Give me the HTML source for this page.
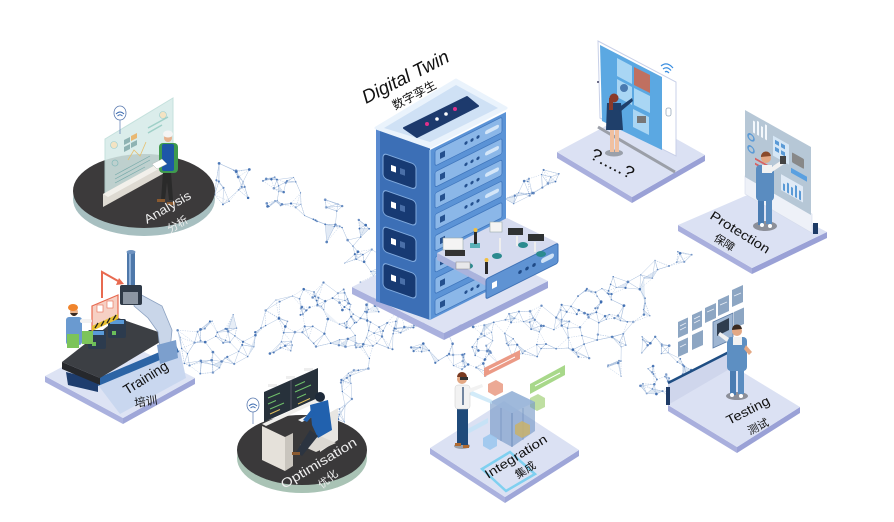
<!DOCTYPE html>
<html><head><meta charset="utf-8">
<style>
html,body{margin:0;padding:0;background:#fff}
body{width:894px;height:522px;overflow:hidden}
svg{display:block}
text{font-family:"Liberation Sans","Noto Sans CJK SC",sans-serif}
</style></head><body>
<svg width="894" height="522" viewBox="0 0 894 522" xmlns="http://www.w3.org/2000/svg">
<g id="mesh"></g>

<!-- ================= ANALYSIS ================= -->
<g>
<ellipse cx="144" cy="199" rx="71" ry="37" fill="#a7bfc0"/>
<ellipse cx="144" cy="191" rx="71" ry="37" fill="#3c3a3b"/>
<polygon points="105,139 173,98 173,168 105,200" fill="#d5ebe8" opacity="0.85" stroke="#bcdcd8" stroke-width="1"/>
<circle cx="114" cy="145" r="3.5" fill="#f3e3c3" stroke="#9cc" stroke-width="0.6"/>
<polygon points="124,140 130,137 130,142 124,145" fill="#8fb3b3"/>
<polygon points="131,136 137,133 137,138 131,141" fill="#e8b872"/>
<polygon points="124,147 130,144 130,149 124,152" fill="#8fb3b3"/>
<polygon points="131,143 137,140 137,145 131,148" fill="#8fb3b3"/>
<circle cx="163" cy="115" r="3.5" fill="#f3e3c3" stroke="#9cc" stroke-width="0.6"/>
<line x1="148" y1="128" x2="168" y2="117" stroke="#9fd0c8" stroke-width="1.5"/>
<line x1="148" y1="133" x2="162" y2="125" stroke="#9fd0c8" stroke-width="1.5"/>
<polyline points="128,160 134,150 140,156 146,142" fill="none" stroke="#e6c070" stroke-width="0.8"/>
<line x1="115" y1="175" x2="150" y2="156" stroke="#7aa" stroke-width="0.7"/>
<line x1="115" y1="179" x2="150" y2="160" stroke="#7aa" stroke-width="0.7"/>
<line x1="115" y1="183" x2="145" y2="167" stroke="#7aa" stroke-width="0.7"/>
<circle cx="115" cy="163" r="3" fill="none" stroke="#8bb" stroke-width="0.8"/>
<polygon points="103,194 168,158 168,171 103,207" fill="#dedad2"/>
<polygon points="103,194 168,158 173,161 108,197" fill="#f2f0eb"/>
<ellipse cx="120" cy="113" rx="6" ry="7" fill="#fff" stroke="#5a7ab0" stroke-width="0.8"/>
<path d="M116,114 q4,-4 8,0 M117.5,116 q2.5,-2.5 5,0" fill="none" stroke="#3a6ab0" stroke-width="0.9"/>
<line x1="120" y1="120" x2="120" y2="134" stroke="#5a7ab0" stroke-width="0.7"/>
<polygon points="163,172 171,172 173,200 169,200 167,182 165,200 161,200" fill="#2a2a2a"/>
<rect x="157" y="199" width="8" height="3" fill="#8a5a30"/>
<rect x="167" y="202" width="8" height="3" fill="#8a5a30"/>
<rect x="159" y="143" width="19" height="30" rx="4" fill="#3f9a4e"/>
<rect x="162" y="144" width="12" height="27" rx="2" fill="#1e56a8"/>
<circle cx="168" cy="138" r="4" fill="#e6b08c"/>
<ellipse cx="168" cy="134" rx="5" ry="3.5" fill="#f4f4f4"/>
<polygon points="152,164 162,159 167,164 157,169" fill="#fff" stroke="#aaa" stroke-width="0.4"/>
<text transform="translate(147,224) rotate(-30)" fill="#eeeeee" font-size="12.5" textLength="52" lengthAdjust="spacingAndGlyphs">Analysis</text>
<text transform="translate(170,233) rotate(-30)" fill="#eeeeee" font-size="11" font-family="'Noto Sans CJK SC',sans-serif">分析</text>
</g>

<!-- ================= TRAINING ================= -->
<g>
<polygon points="45,376 123,418 123,424 45,382" fill="#aab1de"/>
<polygon points="123,418 195,378 195,384 123,424" fill="#9ea6d8"/>
<polygon points="45,376 117,338 195,378 123,418" fill="#dde3f4"/>
<polygon points="98,385 180,350 186,378 120,414" fill="#c9d7ef"/>
<polygon points="98,378 176,345 179,352 98,386" fill="#2c64a5"/>
<polygon points="66,372 98,380 98,392 68,385" fill="#1e3d6e"/>
<polygon points="62,362 118,318 170,336 100,378" fill="#3c3f44"/>
<polygon points="62,362 100,378 100,385 62,369" fill="#26282c"/>
<rect x="88" y="330" width="18" height="19" rx="2" fill="#2c3b4e"/>
<rect x="90" y="331" width="14" height="4" fill="#5a9ad8"/>
<rect x="108" y="319" width="18" height="19" rx="2" fill="#2c3b4e"/>
<rect x="110" y="320" width="14" height="4" fill="#5a9ad8"/>
<rect x="92" y="342" width="4" height="4" fill="#6bbf5a"/>
<rect x="112" y="331" width="4" height="4" fill="#6bbf5a"/>
<rect x="127" y="252" width="8" height="40" fill="#4e78aa"/>
<rect x="129" y="252" width="2" height="40" fill="#8fb0d8"/>
<ellipse cx="131" cy="252" rx="4.5" ry="2" fill="#6d92c0"/>
<polygon points="136,292 162,306 172,330 170,350 160,350 158,332 148,318 134,306" fill="#c9d6e9" stroke="#8aa0c0" stroke-width="0.8"/>
<polygon points="157,345 176,340 178,358 160,364" fill="#7c9fcd"/>
<rect x="120" y="285" width="22" height="20" rx="2" fill="#2f3a48"/>
<rect x="123" y="292" width="15" height="12" fill="#8c96a3"/>
<path d="M102,298 L102,272 L118,281" fill="none" stroke="#e86a50" stroke-width="2"/>
<polygon points="116,285 124,284 119,278" fill="#e86a50"/>
<polygon points="92,306 118,295 118,318 92,330" fill="#f6d0c4" stroke="#e86a50" stroke-width="1.2"/>
<rect x="97" y="305" width="6" height="7" fill="#fff" stroke="#e86a50" stroke-width="0.6"/>
<rect x="107" y="301" width="6" height="7" fill="#fff" stroke="#e86a50" stroke-width="0.6"/>
<polygon points="92,326 118,314 118,319 92,331" fill="#e8c030"/>
<path d="M95,328 l3,-5 M101,326 l3,-5 M107,323 l3,-5 M113,320 l3,-5" stroke="#222" stroke-width="1.3"/>
<rect x="66" y="317" width="16" height="28" rx="3" fill="#6a9ad0"/>
<rect x="80" y="319" width="12" height="4" rx="2" fill="#f2f2f2"/>
<circle cx="74" cy="312" r="4" fill="#e9b48e"/>
<path d="M70,313 q4,6 8,0" fill="#3a2a20"/>
<ellipse cx="73" cy="307.5" rx="5" ry="3.5" fill="#f0842c"/>
<rect x="67" y="334" width="12" height="14" fill="#7cc45a"/>
<rect x="82" y="331" width="11" height="13" fill="#7cc45a"/>
<text transform="translate(127,395) rotate(-32)" fill="#111" font-size="14" textLength="50" lengthAdjust="spacingAndGlyphs">Training</text>
<text transform="translate(135,407) rotate(-8)" fill="#111" font-size="11.5" font-family="'Noto Sans CJK SC',sans-serif">培训</text>
</g>

<!-- ================= OPTIMISATION ================= -->
<g>
<ellipse cx="302" cy="458" rx="65" ry="35" fill="#a9c3b5"/>
<ellipse cx="302" cy="450" rx="65" ry="35" fill="#3a393a"/>
<rect x="268" y="384" width="9" height="3" fill="#eee"/>
<rect x="286" y="376" width="9" height="3" fill="#eee"/>
<rect x="304" y="368" width="9" height="3" fill="#eee"/>
<polygon points="264,392 318,368 318,398 264,422" fill="#27313b"/>
<line x1="291" y1="380" x2="291" y2="410" stroke="#556" stroke-width="1"/>
<path d="M268,398 l12,-5 M268,404 l8,-3.5 M270,409 l14,-6 M295,386 l10,-4.5 M295,392 l16,-7 M297,398 l9,-4" stroke="#6fbf6a" stroke-width="1"/>
<path d="M270,414 l10,-4.5 M298,404 l12,-5.5" stroke="#e0c060" stroke-width="1"/>
<polygon points="262,424 318,398 322,400 266,426" fill="#f0efec"/>
<polygon points="262,426 285,437 285,471 262,460" fill="#e5e1da"/>
<polygon points="285,437 293,433 293,466 285,471" fill="#c9c5be"/>
<polygon points="298,420 312,413 316,415 302,422" fill="#f4f4f4"/>
<polygon points="320,418 338,408 338,440 320,452" fill="#e8e6e2"/>
<polygon points="300,445 320,436 336,443 316,452" fill="#dcd9d3"/>
<polygon points="310,405 328,400 332,430 318,438 312,425" fill="#2161ae"/>
<circle cx="320" cy="397" r="5" fill="#1e2a3a"/>
<polygon points="311,410 303,420 307,422 315,413" fill="#2161ae"/>
<polygon points="310,430 318,436 302,456 296,452" fill="#2c3440"/>
<rect x="292" y="452" width="8" height="3" fill="#8a5a30"/>
<ellipse cx="253" cy="405" rx="6" ry="7" fill="#fff" stroke="#5a7ab0" stroke-width="0.8"/>
<path d="M249,406 q4,-4 8,0 M250.5,408 q2.5,-2.5 5,0" fill="none" stroke="#3a6ab0" stroke-width="0.9"/>
<line x1="253" y1="412" x2="253" y2="424" stroke="#5a7ab0" stroke-width="0.7"/>
<text transform="translate(284,489) rotate(-31)" fill="#eeeeee" font-size="13" textLength="86" lengthAdjust="spacingAndGlyphs">Optimisation</text>
<text transform="translate(322,489) rotate(-40)" fill="#eeeeee" font-size="11" font-family="'Noto Sans CJK SC',sans-serif">优化</text>
</g>

<!-- ================= DIGITAL TWIN TOWER ================= -->
<g>
<polygon points="352,287 444,333 444,340 352,294" fill="#aab1de"/>
<polygon points="444,333 548,281 548,288 444,340" fill="#9ea6d8"/>
<polygon points="352,287 455,235 548,281 444,333" fill="#dde2f3"/>
<g transform="matrix(1,0.35,0,1,0,0)">
  <rect x="376" y="-3.5" width="54" height="173" fill="#3c6fb6"/>
  <rect x="376" y="-3.5" width="4" height="173" fill="#5a8ad0"/>
  <g stroke="#80aade" stroke-width="1">
  <rect x="383" y="19" width="33" height="25" rx="4" fill="#173a73"/>
  <rect x="383" y="55.5" width="33" height="25" rx="4" fill="#173a73"/>
  <rect x="383" y="92" width="33" height="25" rx="4" fill="#173a73"/>
  <rect x="383" y="128.5" width="33" height="25" rx="4" fill="#173a73"/>
  </g>
  <rect x="391" y="28" width="5" height="6" fill="#fff"/><rect x="400" y="28" width="5" height="6" fill="#4a6fa8"/>
  <rect x="391" y="64.5" width="5" height="6" fill="#fff"/><rect x="400" y="64.5" width="5" height="6" fill="#4a6fa8"/>
  <rect x="391" y="101" width="5" height="6" fill="#fff"/><rect x="400" y="101" width="5" height="6" fill="#4a6fa8"/>
  <rect x="391" y="137.5" width="5" height="6" fill="#fff"/><rect x="400" y="137.5" width="5" height="6" fill="#4a6fa8"/>
</g>
<g transform="matrix(1,-0.5,0,1,0,0)">
  <rect x="430" y="365" width="76" height="170" fill="#5b93d6"/>
  <g fill="#8bb7e8" stroke="#3f76bd" stroke-width="0.8">
  <rect x="435" y="368" width="67" height="15.5" rx="2"/>
  <rect x="435" y="389.3" width="67" height="15.5" rx="2"/>
  <rect x="435" y="410.6" width="67" height="15.5" rx="2"/>
  <rect x="435" y="431.9" width="67" height="15.5" rx="2"/>
  <rect x="435" y="453.2" width="67" height="15.5" rx="2"/>
  <rect x="435" y="474.5" width="67" height="15.5" rx="2"/>
  <rect x="435" y="495.8" width="67" height="15.5" rx="2"/>
  <rect x="435" y="517.1" width="67" height="15.5" rx="2"/>
  </g>
  <g fill="#24508e">
  <rect x="440" y="373" width="5" height="6"/><rect x="440" y="394.3" width="5" height="6"/><rect x="440" y="415.6" width="5" height="6"/><rect x="440" y="436.9" width="5" height="6"/><rect x="440" y="458.2" width="5" height="6"/><rect x="440" y="479.5" width="5" height="6"/><rect x="440" y="500.8" width="5" height="6"/><rect x="440" y="522.1" width="5" height="6"/>
  <circle cx="466" cy="376" r="1.6"/><circle cx="472" cy="376" r="1.6"/><circle cx="478" cy="376" r="1.6"/>
  <circle cx="466" cy="397.3" r="1.6"/><circle cx="472" cy="397.3" r="1.6"/><circle cx="478" cy="397.3" r="1.6"/>
  <circle cx="466" cy="418.6" r="1.6"/><circle cx="472" cy="418.6" r="1.6"/><circle cx="478" cy="418.6" r="1.6"/>
  <circle cx="466" cy="439.9" r="1.6"/><circle cx="472" cy="439.9" r="1.6"/><circle cx="478" cy="439.9" r="1.6"/>
  <circle cx="466" cy="525.1" r="1.6"/><circle cx="472" cy="525.1" r="1.6"/><circle cx="478" cy="525.1" r="1.6"/>
  </g>
  <g fill="#d4e6f8">
  <rect x="485" y="373.5" width="14" height="4" rx="2"/><rect x="485" y="394.8" width="14" height="4" rx="2"/><rect x="485" y="416.1" width="14" height="4" rx="2"/><rect x="485" y="437.4" width="14" height="4" rx="2"/><rect x="485" y="522.6" width="14" height="4" rx="2"/>
  </g>
</g>
<line x1="430" y1="150" x2="430" y2="320" stroke="#8fbbe9" stroke-width="1.5"/>
<polygon points="376,128 456,80 506,108 430,147" fill="#eaf3fc" stroke="#eaf3fc" stroke-width="3" stroke-linejoin="round"/>
<polygon points="384,128 456,85 498,108 430,142" fill="#cfe1f5"/>
<polygon points="404,128 467,97 478,106 417,137" fill="#1d3a6d" stroke="#1d3a6d" stroke-width="2" stroke-linejoin="round"/>
<circle cx="427" cy="124" r="2" fill="#e0308a"/>
<circle cx="437" cy="119" r="1.8" fill="#fff"/>
<circle cx="446" cy="114" r="1.8" fill="#fff"/>
<circle cx="455" cy="109" r="2" fill="#e0308a"/>
<!-- drawer -->
<polygon points="437,253 486,279 486,286 437,260" fill="#aab3dc"/>
<polygon points="437,253 507,218 558,243 486,279" fill="#d5dbef"/>
<g transform="matrix(1,-0.5,0,1,0,0)">
  <rect x="486" y="522" width="72" height="20" rx="2" fill="#5f93d3" stroke="#3d70b5" stroke-width="1"/>
  <rect x="492" y="529" width="5" height="6" fill="#fff"/>
  <circle cx="520" cy="532" r="1.8" fill="#1f4a86"/><circle cx="527" cy="532" r="1.8" fill="#1f4a86"/><circle cx="534" cy="532" r="1.8" fill="#1f4a86"/>
  <rect x="541" y="529.5" width="13" height="5" rx="2.5" fill="#cfe2f6"/>
</g>
<rect x="443" y="238" width="20" height="12" fill="#f4f4f4" stroke="#9aa" stroke-width="0.6"/>
<rect x="445" y="250" width="20" height="6" fill="#333"/>
<rect x="470" y="243" width="10" height="5" fill="#5ab0b8"/>
<ellipse cx="468" cy="266" rx="5" ry="3" fill="#2b8a8e"/>
<ellipse cx="497" cy="256" rx="5" ry="3" fill="#2b8a8e"/>
<ellipse cx="523" cy="245" rx="5" ry="3" fill="#2b8a8e"/>
<ellipse cx="541" cy="254" rx="5" ry="3" fill="#2b8a8e"/>
<rect x="474" y="232" width="3" height="12" fill="#2a2a2a"/><circle cx="475.5" cy="230" r="2" fill="#f2c040"/>
<rect x="485" y="262" width="3" height="12" fill="#2a2a2a"/><circle cx="486.5" cy="260" r="2" fill="#f2c040"/>
<rect x="490" y="222" width="12" height="10" fill="#f4f4f4" stroke="#9aa" stroke-width="0.6"/>
<rect x="508" y="228" width="15" height="7" fill="#2f3233"/>
<rect x="528" y="234" width="16" height="7" fill="#2f3233"/>
<line x1="500" y1="238" x2="500" y2="252" stroke="#eee" stroke-width="2"/>
<line x1="517" y1="236" x2="517" y2="246" stroke="#eee" stroke-width="2"/>
<line x1="535" y1="242" x2="535" y2="252" stroke="#eee" stroke-width="2"/>
<rect x="456" y="262" width="14" height="7" fill="#e8e8ea" stroke="#888" stroke-width="0.5"/>
<text transform="translate(366,104) rotate(-27)" fill="#111" font-size="19" font-style="italic" textLength="95" lengthAdjust="spacingAndGlyphs">Digital Twin</text>
<text transform="translate(395,110) rotate(-28)" fill="#111" font-size="12" font-family="'Noto Sans CJK SC',sans-serif">数字孪生</text>
</g>

<!-- ================= INTEGRATION ================= -->
<g>
<polygon points="430,448 505,497 505,503 430,454" fill="#aab1de"/>
<polygon points="505,497 579,450 579,456 505,503" fill="#9ea6d8"/>
<polygon points="504,401 579,450 505,497 430,448" fill="#dbe1f3"/>
<polygon points="482,469 510,452 535,474 506,491" fill="none" stroke="#7fd0f0" stroke-width="2.5"/>
<polygon points="484,368 520,350 520,359 484,377" fill="#eb9a86"/>
<line x1="489" y1="370" x2="515" y2="357" stroke="#fff" stroke-width="1"/>
<polygon points="530,384 565,365 565,375 530,394" fill="#a8d88a"/>
<line x1="535" y1="386" x2="560" y2="373" stroke="#fff" stroke-width="1"/>
<polygon points="488,384 496,380 503,384 503,392 495,396 488,392" fill="#eaa08a" opacity="0.9"/>
<polygon points="530,398 538,394 545,398 545,407 537,411 530,407" fill="#b8dc98" opacity="0.9"/>
<polygon points="490,402 512,391 535,402 535,431 512,447 490,435" fill="#6f95c4" opacity="0.6"/>
<polygon points="490,402 512,391 535,402 512,413" fill="#9ab6da" opacity="0.6"/>
<line x1="512" y1="413" x2="512" y2="447" stroke="#4f75a8" stroke-width="0.6"/>
<line x1="501" y1="408" x2="501" y2="441" stroke="#4f75a8" stroke-width="0.4"/>
<line x1="523" y1="408" x2="523" y2="440" stroke="#4f75a8" stroke-width="0.4"/>
<polygon points="515,425 522,421 530,425 530,434 522,438 515,434" fill="#c9b26a" opacity="0.85"/>
<polygon points="483,438 490,434 497,438 497,446 490,450 483,446" fill="#9cc8ee" opacity="0.9"/>
<polygon points="470,390 492,400 492,404 470,395" fill="#bfe2f6" opacity="0.7"/>
<polygon points="462,432 488,418 488,423 462,437" fill="#bfe2f6" opacity="0.7"/>
<ellipse cx="462" cy="446" rx="8" ry="3" fill="#9aa0aa"/>
<rect x="457" y="407" width="11" height="38" fill="#1f4a7a"/>
<rect x="455" y="443" width="6" height="3" fill="#b06a30"/><rect x="463" y="445" width="6" height="3" fill="#b06a30"/>
<rect x="455" y="385" width="15" height="24" rx="3" fill="#f2f2f2" stroke="#ccc" stroke-width="0.5"/>
<line x1="463" y1="387" x2="463" y2="405" stroke="#1f3f6a" stroke-width="1.2"/>
<polygon points="468,389 482,384 483,387 469,393" fill="#f2f2f2"/>
<circle cx="462" cy="379" r="5" fill="#e3a884"/>
<path d="M457,377 a5,5 0 0 1 10,0 z" fill="#7a3a20"/>
<rect x="460" y="377" width="8" height="3" fill="#333"/>
<text transform="translate(488,479) rotate(-32)" fill="#111" font-size="12.5" textLength="71" lengthAdjust="spacingAndGlyphs">Integration</text>
<text transform="translate(518,479) rotate(-32)" fill="#111" font-size="11" font-family="'Noto Sans CJK SC',sans-serif">集成</text>
</g>

<!-- ================= ?....? ================= -->
<g>
<polygon points="557,152 632,197 632,203 557,158" fill="#a9afdd"/>
<polygon points="632,197 705,155 705,161 632,203" fill="#9aa1d6"/>
<polygon points="630,113 705,155 632,197 557,152" fill="#dbe1f3"/>
<line x1="598" y1="127" x2="675" y2="172" stroke="#9b9fa8" stroke-width="3"/>
<polygon points="598,41 676,82 676,156 600,118" fill="#ffffff" stroke="#c8d0e8" stroke-width="1"/>
<polygon points="600,45 662,77 662,150 602,121" fill="#5ba8e2"/>
<rect x="666" y="108" width="5" height="8" rx="2" fill="none" stroke="#9ab" stroke-width="0.8"/>
<path d="M661,66 q6,-5 12,2 M663,69 q4,-3 8,1.5 M665,72 q2,-1.5 4,1" fill="none" stroke="#3a8ee0" stroke-width="1.2"/>
<circle cx="598" cy="82" r="1" fill="#446"/>
<polygon points="617,58 632,66 632,84 617,76" fill="#a9d6f4"/>
<polygon points="634,67 650,75 650,93 634,85" fill="#c07060"/>
<polygon points="617,79 632,87 632,105 617,97" fill="#a9d6f4"/>
<polygon points="634,88 650,96 650,113 634,105" fill="#a9d6f4"/>
<polygon points="633,109 649,117 649,135 633,127" fill="#a9d6f4"/>
<circle cx="624" cy="88" r="4" fill="#4a7ab0"/>
<rect x="637" y="116" width="9" height="7" fill="#777"/>
<ellipse cx="614" cy="153" rx="9" ry="3.5" fill="#9aa0aa"/>
<rect x="610" y="127" width="4" height="25" fill="#f0c0a0"/><rect x="615" y="127" width="4" height="25" fill="#f0c0a0"/>
<polygon points="607,103 621,103 623,130 606,130" fill="#1f3f6a"/>
<polygon points="618,108 632,98 633,101 620,112" fill="#1f3f6a"/>
<circle cx="614" cy="98" r="4.5" fill="#8a3a2a"/>
<rect x="609" y="98" width="4" height="12" fill="#8a3a2a"/>
<text transform="translate(589,158) rotate(27)" fill="#111" font-size="17" textLength="47" lengthAdjust="spacingAndGlyphs">?.....?</text>
</g>

<!-- ================= PROTECTION ================= -->
<g>
<polygon points="678,225 752,268 752,274 678,231" fill="#a9afdd"/>
<polygon points="752,268 827,232 827,238 752,274" fill="#9aa1d6"/>
<polygon points="752,193 827,232 752,268 678,225" fill="#dbe1f3"/>
<polygon points="745,176 812,214 812,233 745,194" fill="#eef1f8" stroke="#d5dbeb" stroke-width="0.6"/>
<rect x="813" y="223" width="5" height="11" fill="#1e3b66"/>
<polygon points="745,110 811,147 811,215 745,177" fill="#b6c7d6"/>
<g transform="matrix(1,0.56,0,1,745,110)">
  <rect x="8" y="6" width="2" height="12" fill="#f4f8fc"/><rect x="12" y="4" width="2" height="14" fill="#f4f8fc"/><rect x="16" y="7" width="2" height="11" fill="#f4f8fc"/><rect x="20" y="3" width="2" height="15" fill="#f4f8fc"/>
  <rect x="28" y="10" width="16" height="20" fill="#d6e7f6"/>
  <rect x="30" y="13" width="4" height="4" fill="#5a9ad6"/><rect x="36" y="13" width="4" height="4" fill="#5a9ad6"/><rect x="30" y="20" width="4" height="4" fill="#5a9ad6"/><rect x="36" y="20" width="4" height="4" fill="#5a9ad6"/>
  <circle cx="6" cy="24" r="3" fill="none" stroke="#5a9ad6" stroke-width="1.5"/>
  <circle cx="6" cy="36" r="3" fill="none" stroke="#5a9ad6" stroke-width="1.5"/>
  <rect x="47" y="16" width="12" height="10" fill="#888" rx="1"/>
  <rect x="10" y="42" width="14" height="2" fill="#d86060"/><rect x="10" y="47" width="10" height="2" fill="#d86060"/>
  <rect x="36" y="44" width="22" height="16" fill="#e0eaf6"/>
  <rect x="38" y="52" width="2" height="7" fill="#5a9ad6"/><rect x="42" y="49" width="2" height="10" fill="#5a9ad6"/><rect x="46" y="51" width="2" height="8" fill="#5a9ad6"/><rect x="50" y="47" width="2" height="12" fill="#5a9ad6"/><rect x="54" y="50" width="2" height="9" fill="#5a9ad6"/>
  <rect x="46" y="32" width="16" height="5" fill="#5aa0e0"/>
</g>
<ellipse cx="765" cy="226" rx="12" ry="5" fill="#8c8f99"/>
<rect x="758" y="198" width="6" height="27" fill="#4a7cb2"/><rect x="766" y="198" width="6" height="26" fill="#5a8cc0"/>
<rect x="756" y="165" width="18" height="36" rx="4" fill="#5a8cc0"/>
<rect x="762" y="165" width="10" height="8" fill="#f2f2f2"/>
<polygon points="770,168 782,160 784,164 772,172" fill="#f2f2f2"/>
<rect x="780" y="156" width="6" height="8" fill="#444"/>
<circle cx="766" cy="158" r="5" fill="#e3a884"/>
<path d="M761,157 a5,5 0 0 1 10,-1 z" fill="#8a4a2a"/>
<circle cx="762" cy="225" r="2" fill="#fff"/><circle cx="770" cy="226" r="2" fill="#fff"/>
<text transform="translate(709,218) rotate(32)" fill="#111" font-size="13" textLength="68" lengthAdjust="spacingAndGlyphs">Protection</text>
<text transform="translate(713,240) rotate(32)" fill="#111" font-size="11" font-family="'Noto Sans CJK SC',sans-serif">保障</text>
</g>

<!-- ================= TESTING ================= -->
<g>
<polygon points="668,405 737,447 737,453 668,411" fill="#a9afdd"/>
<polygon points="737,447 800,407 800,413 737,453" fill="#9aa1d6"/>
<polygon points="731,365 800,407 737,447 668,405" fill="#dbe1f3"/>
<polygon points="668,383 733,350 733,367 668,405" fill="#cfd6ec"/>
<line x1="668" y1="383" x2="733" y2="350" stroke="#1f4e83" stroke-width="2.5"/>
<rect x="666" y="387" width="4" height="18" fill="#1f3b66"/>
<g fill="#8da6c3">
<polygon points="678,322 688,317.5 688,333.5 678,338"/>
<polygon points="692,315 702,310.5 702,326.5 692,331"/>
<polygon points="705,308 716,303 716,318 705,323"/>
<polygon points="718,300 729,295 729,311 718,316"/>
<polygon points="732,290 743,285 743,302 732,307"/>
<polygon points="678,342 688,337.5 688,352.5 678,357"/>
<polygon points="692,335 703,330 703,345 692,350"/>
<polygon points="734,312 744,307.5 744,324 734,328"/>
</g>
<g stroke="#e8eef6" stroke-width="0.8">
<line x1="680" y1="326" x2="686" y2="323"/><line x1="680" y1="330" x2="686" y2="327"/>
<line x1="694" y1="319" x2="700" y2="316"/><line x1="694" y1="323" x2="700" y2="320"/>
<line x1="707" y1="312" x2="714" y2="309"/><line x1="720" y1="305" x2="727" y2="302"/>
<line x1="734" y1="296" x2="741" y2="293"/><line x1="680" y1="347" x2="686" y2="344"/>
</g>
<polygon points="713,322 733,313 733,339 713,348" fill="#9fb6d2" stroke="#5b7ca6" stroke-width="0.8"/>
<polygon points="717,324 729,318 729,330 717,336" fill="#2f3d4f"/>
<ellipse cx="737" cy="396" rx="11" ry="4" fill="#8c8f99"/>
<rect x="730" y="368" width="6" height="27" fill="#4a7cb2"/><rect x="738" y="368" width="6" height="26" fill="#5a8cc0"/>
<rect x="727" y="337" width="20" height="34" rx="4" fill="#5d8fc2"/>
<rect x="733" y="337" width="9" height="8" fill="#f2f2f2"/>
<polygon points="727,342 718,335 720,332 729,338" fill="#f2f2f2"/>
<polygon points="746,345 752,352 749,355 744,349" fill="#e3a884"/>
<circle cx="737" cy="331" r="5" fill="#e3a884"/>
<path d="M732,330 a5,5 0 0 1 10,-1 z" fill="#3a2a20"/>
<circle cx="732" cy="395" r="2" fill="#fff"/><circle cx="741" cy="396" r="2" fill="#fff"/>
<text transform="translate(729,425) rotate(-27)" fill="#111" font-size="13" textLength="47" lengthAdjust="spacingAndGlyphs">Testing</text>
<text transform="translate(750,435) rotate(-27)" fill="#111" font-size="11" font-family="'Noto Sans CJK SC',sans-serif">测试</text>
</g>
</svg>
<script>
(function(){
var g=document.getElementById("mesh");
var seed=12345;
function r(){seed=(seed*16807)%2147483647;return seed/2147483647;}
var bands=[
 {p:[[212,182],[245,190],[285,196],[320,212],[348,235],[372,262],[392,290]],w:44,n:95},
 {p:[[180,352],[220,345],[260,332],[300,322],[340,320],[380,328],[420,338],[460,345],[500,340],[540,332],[580,330],[620,345],[660,370],[690,388]],w:55,n:270},
 {p:[[505,200],[530,188],[562,168]],w:18,n:18},
 {p:[[560,300],[600,290],[645,273],[695,252]],w:16,n:28},
 {p:[[338,420],[348,392],[360,360],[370,338]],w:24,n:22},
 {p:[[470,378],[478,355],[488,330]],w:30,n:24},
 {p:[[300,290],[340,305],[380,318]],w:34,n:30},
 {p:[[560,320],[600,318],[650,300]],w:30,n:25}
];
var pts=[];
bands.forEach(function(b){
  var segs=[],L=0,i;
  for(i=0;i<b.p.length-1;i++){var a=b.p[i],c=b.p[i+1];var l=Math.hypot(c[0]-a[0],c[1]-a[1]);segs.push([a,c,l]);L+=l;}
  for(var k=0;k<b.n;k++){
    var t=r()*L,j=0;
    while(j<segs.length-1&&t>segs[j][2]){t-=segs[j][2];j++;}
    var s=segs[j];var f=Math.min(1,t/s[2]);
    var dx=(s[1][0]-s[0][0])/s[2],dy=(s[1][1]-s[0][1])/s[2];
    var off=(r()-0.5)*b.w;
    pts.push([s[0][0]+(s[1][0]-s[0][0])*f-dy*off, s[0][1]+(s[1][1]-s[0][1])*f+dx*off]);
  }
});
var tris="",lines="",dots="";
pts.forEach(function(p,i){
  var d=[];
  pts.forEach(function(q,j){if(i!==j){var dd=Math.hypot(p[0]-q[0],p[1]-q[1]);if(dd<28)d.push([dd,j]);}});
  d.sort(function(a,b){return a[0]-b[0];});
  for(var m=0;m<Math.min(4,d.length);m++){
    var q=pts[d[m][1]];
    var dash=r()<0.5?' stroke-dasharray="1.2 1.2"':'';
    lines+='<line x1="'+p[0].toFixed(1)+'" y1="'+p[1].toFixed(1)+'" x2="'+q[0].toFixed(1)+'" y2="'+q[1].toFixed(1)+'"'+dash+'/>';
  }
  if(d.length>=2&&r()<0.25){
    var a=pts[d[0][1]],b=pts[d[1][1]];
    tris+='<polygon points="'+p[0].toFixed(1)+','+p[1].toFixed(1)+' '+a[0].toFixed(1)+','+a[1].toFixed(1)+' '+b[0].toFixed(1)+','+b[1].toFixed(1)+'" opacity="'+(0.3+r()*0.4).toFixed(2)+'"/>';
  }
  var rad=0.5+r()*0.9;
  dots+='<circle cx="'+p[0].toFixed(1)+'" cy="'+p[1].toFixed(1)+'" r="'+rad.toFixed(2)+'" opacity="'+(0.45+r()*0.5).toFixed(2)+'"/>';
});
g.innerHTML='<g fill="#c9d9ec">'+tris+'</g><g stroke="#a9c0de" stroke-width="0.45">'+lines+'</g><g fill="#3566ad">'+dots+'</g>';
})();
</script>
</body></html>
